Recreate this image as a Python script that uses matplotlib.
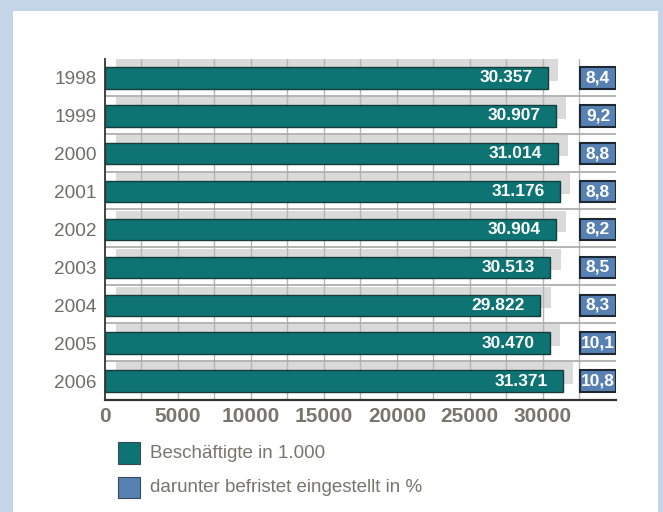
import matplotlib
matplotlib.use("Agg")
import matplotlib.pyplot as plt
from matplotlib import font_manager as fm
from matplotlib.patches import Rectangle

years = ["1998", "1999", "2000", "2001", "2002", "2003", "2004", "2005", "2006"]
employed = [30357, 30907, 31014, 31176, 30904, 30513, 29822, 30470, 31371]
fixed_term_pct = [8.4, 9.2, 8.8, 8.8, 8.2, 8.5, 8.3, 10.1, 10.8]
x_ticks = [0, 5000, 10000, 15000, 20000, 25000, 30000]
legend_labels = ["Beschäftigte in 1.000", "darunter befristet eingestellt in %"]

names = {f.name for f in fm.fontManager.ttflist}
NARROW = "Liberation Sans Narrow" if "Liberation Sans Narrow" in names else "Liberation Sans"
REG = "Liberation Sans"

TEAL = "#0d7373"
TEAL_EDGE = "#163c3c"
BLUE = "#5781b2"
BLUE_EDGE = "#1e2833"
SHADOW = "#dadada"
GRID = "#b5b5b5"
TXT = "#76766c"
BG = "#c5d5e8"

W, H = 663, 512
fig = plt.figure(figsize=(W / 100, H / 100), dpi=100)
fig.patch.set_facecolor(BG)
fig.patches.append(Rectangle((13 / W, 0), (658 - 13) / W, (H - 11) / H,
                             transform=fig.transFigure, facecolor="white",
                             edgecolor="none", zorder=-10))

x0, x1 = 105, 615.7
ytop, ybot = 59, 400
ax = fig.add_axes([x0 / W, 1 - ybot / H, (x1 - x0) / W, (ybot - ytop) / H])
ax.set_facecolor("none")
ax.set_zorder(1)

xmax = 35000
ax.set_xlim(0, xmax)
ax.set_ylim(len(years) - 0.5, -0.5)

px_x = xmax / (x1 - x0)
px_y = len(years) / (ybot - ytop)
bar_h = 0.565
dx = 10.5 * px_x
dy = 8 * px_y
box_left = 32580

for i, v in enumerate(employed):
    # shadow (3D depth)
    ax.add_patch(Rectangle((dx, i - bar_h / 2 - dy), v, bar_h,
                           facecolor=SHADOW, edgecolor="none", zorder=1))

# grid
for g in range(2500, 32501, 2500):
    ax.axvline(g, color=GRID, lw=1, zorder=2)
for i in range(len(years) - 1):
    ax.axhline(i + 0.47, color="#a8a8a8", lw=1.2, zorder=2)

ax.barh(range(len(years)), employed, height=bar_h, color=TEAL,
        edgecolor=TEAL_EDGE, linewidth=1, zorder=3)

for i, v in enumerate(employed):
    ax.annotate(f"{v:,}".replace(",", "."), (v, i), xytext=(-11, 0),
                textcoords="offset points", ha="right", va="center",
                color="white", fontsize=12.5, fontweight="bold",
                family=NARROW, zorder=4)

ax.barh(range(len(years)), [xmax - box_left] * len(years), left=box_left,
        height=bar_h, color=BLUE, edgecolor=BLUE_EDGE, linewidth=1.5, zorder=3)
for i, p in enumerate(fixed_term_pct):
    ax.text((box_left + xmax) / 2, i, f"{p:.1f}".replace(".", ","),
            ha="center", va="center", color="white", fontsize=12.5,
            fontweight="bold", family=NARROW, zorder=4)

ax.set_yticks(range(len(years)))
ax.set_yticklabels(years, family=REG, fontsize=13.7, color="#6e6e68")
ax.set_xticks(x_ticks)
ax.set_xticklabels([str(t) for t in x_ticks], family=NARROW, fontsize=15,
                   fontweight="bold", color=TXT)
ax.tick_params(axis="both", length=0)
ax.tick_params(axis="y", pad=6)
ax.tick_params(axis="x", pad=5)

for s in ["top", "right"]:
    ax.spines[s].set_visible(False)
ax.spines["left"].set_color("#333333")
ax.spines["bottom"].set_color("#333333")
ax.spines["left"].set_linewidth(1.3)
ax.spines["bottom"].set_linewidth(1.6)
ax.spines["left"].set_zorder(5)
ax.spines["bottom"].set_zorder(5)

# legend
for k, (lab, col) in enumerate(zip(legend_labels, [TEAL, BLUE])):
    ytop_l = 442 + k * 34.5
    fig.patches.append(Rectangle((118 / W, 1 - (ytop_l + 21.5) / H), 21.5 / W, 21.5 / H,
                                 transform=fig.transFigure, facecolor=col,
                                 edgecolor="#3a4a55", lw=0.8, zorder=2))
    fig.text(150 / W, 1 - (ytop_l + 11) / H, lab, family=REG, fontsize=13.5,
             color=TXT, va="center", ha="left")

fig.savefig("out.png", dpi=100, facecolor=BG)
